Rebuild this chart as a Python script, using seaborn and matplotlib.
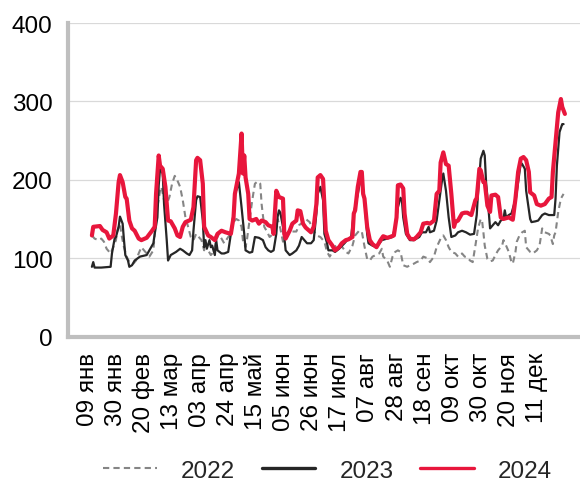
import matplotlib
matplotlib.use("Agg")
import matplotlib.pyplot as plt
from matplotlib.lines import Line2D
import seaborn as sns

# ── Data: day of year (1 = 01 янв) and values ──
days_2022 = [12, 14, 17, 19, 21, 23, 25, 26, 28, 30, 31, 33, 34, 36, 38, 40, 43, 45, 47, 49,
             51, 53, 55, 58, 59, 61, 63, 64, 66, 68, 70, 72, 74, 76, 78, 80, 82, 84, 86, 88,
             90, 92, 94, 96, 97, 99, 101, 102, 104, 105, 107, 111, 114, 116, 118, 120, 122, 124, 125, 127,
             128, 130, 132, 134, 136, 138, 139, 141, 143, 145, 147, 149, 151, 153, 155, 157, 160, 165, 167, 170,
             172, 175, 177, 180, 183, 186, 188, 190, 192, 194, 197, 199, 202, 204, 207, 209, 212, 214, 216, 218,
             220, 222, 227, 229, 230, 233, 235, 237, 239, 241, 243, 245, 248, 250, 253, 255, 258, 260, 263, 265,
             268, 270, 273, 275, 277, 279, 281, 284, 286, 289, 291, 293, 295, 297, 299, 301, 303, 304, 305, 306,
             308, 310, 312, 314, 316, 319, 320, 322, 324, 326, 327, 329, 330, 332, 334, 336, 337, 340, 342, 345,
             347, 349, 351, 354, 355, 357, 358, 359, 361, 363, 365]
vals_2022 = [129, 125, 123, 125, 121, 112, 108, 106, 114, 123, 135, 144, 131, 114, 102, 95, 93, 97, 106, 114,
             110, 106, 102, 110, 131, 165, 186, 191, 174, 169, 178, 195, 205, 199, 191, 174, 152, 140, 127, 123,
             131, 127, 123, 110, 119, 110, 104, 106, 114, 123, 131, 119, 127, 131, 146, 150, 148, 140, 123, 114,
             123, 148, 174, 195, 198, 195, 169, 140, 134, 127, 130, 138, 150, 138, 121, 130, 134, 134, 142, 146,
             150, 146, 138, 129, 127, 121, 108, 102, 108, 115, 118, 115, 108, 106, 116, 129, 135, 134, 115, 99,
             97, 102, 106, 112, 102, 97, 89, 102, 108, 110, 108, 91, 89, 91, 93, 95, 97, 102, 100, 95,
             102, 114, 125, 129, 123, 114, 108, 106, 102, 106, 102, 101, 97, 95, 116, 138, 150, 148, 133, 116,
             99, 96, 97, 104, 110, 116, 123, 116, 108, 95, 93, 108, 121, 129, 133, 135, 114, 108, 106, 110,
             116, 138, 133, 131, 129, 118, 129, 133, 159, 176, 182]

days_2023 = [12, 13, 14, 19, 26, 27, 29, 30, 32, 33, 35, 36, 37, 39, 40, 42, 44, 48, 53, 55,
             58, 59, 61, 62, 63, 65, 66, 68, 69, 71, 75, 78, 80, 83, 85, 87, 88, 90, 91, 93,
             95, 96, 97, 98, 100, 101, 102, 104, 105, 106, 109, 111, 114, 116, 118, 119, 121, 122, 124, 126,
             127, 130, 132, 134, 137, 140, 142, 144, 146, 148, 150, 151, 152, 153, 155, 156, 157, 160, 162, 165,
             167, 169, 171, 173, 176, 178, 180, 181, 183, 185, 186, 188, 189, 192, 194, 197, 201, 203, 206, 208,
             211, 213, 214, 216, 218, 219, 222, 225, 229, 233, 237, 239, 241, 243, 244, 245, 247, 250, 253, 257,
             259, 262, 264, 265, 268, 270, 272, 274, 275, 277, 279, 281, 284, 286, 289, 292, 295, 298, 300, 301,
             303, 305, 306, 307, 309, 310, 312, 314, 316, 318, 320, 321, 322, 324, 326, 328, 329, 331, 333, 334,
             336, 337, 340, 341, 344, 346, 349, 351, 354, 356, 358, 359, 360, 362, 364, 365]
vals_2023 = [89, 95, 88, 88, 89, 106, 125, 127, 140, 153, 144, 123, 104, 97, 89, 91, 97, 102, 104, 110,
             119, 131, 152, 193, 214, 208, 169, 123, 97, 104, 108, 112, 110, 106, 104, 110, 135, 174, 179, 178,
             148, 114, 123, 112, 123, 114, 116, 104, 123, 110, 106, 106, 108, 131, 157, 182, 191, 197, 165, 131,
             110, 107, 108, 127, 126, 123, 114, 110, 108, 110, 131, 153, 161, 158, 140, 127, 110, 104, 106, 110,
             116, 127, 123, 119, 119, 123, 157, 182, 191, 174, 131, 119, 110, 110, 108, 112, 119, 123, 127, 157,
             182, 201, 197, 174, 131, 119, 116, 114, 123, 125, 127, 140, 165, 177, 174, 152, 131, 123, 123, 127,
             133, 133, 140, 133, 135, 148, 174, 199, 208, 186, 152, 127, 129, 133, 135, 133, 130, 131, 155, 184,
             227, 237, 231, 197, 159, 138, 142, 146, 142, 148, 150, 161, 152, 155, 157, 169, 172, 197, 222, 220,
             214, 186, 150, 146, 147, 148, 155, 157, 155, 155, 155, 176, 218, 261, 271, 271]

days_2024 = [12, 13, 18, 20, 23, 25, 28, 30, 32, 33, 35, 37, 38, 40, 42, 44, 47, 49, 53, 57,
             59, 60, 62, 63, 65, 67, 69, 71, 74, 76, 78, 80, 82, 86, 88, 90, 91, 93, 95, 96,
             99, 101, 104, 106, 109, 112, 116, 118, 119, 121, 122, 124, 125, 126, 127, 129, 130, 132, 135, 137,
             139, 142, 144, 147, 148, 150, 152, 155, 156, 157, 160, 162, 165, 166, 168, 170, 172, 176, 178, 180,
             181, 183, 185, 186, 187, 189, 192, 194, 197, 199, 202, 204, 207, 208, 209, 211, 213, 214, 215, 216,
             218, 220, 222, 225, 228, 230, 233, 235, 238, 240, 241, 243, 245, 246, 248, 250, 253, 255, 258, 260,
             263, 265, 268, 270, 272, 273, 275, 277, 279, 281, 283, 284, 286, 289, 291, 293, 296, 299, 300, 302,
             303, 305, 306, 308, 310, 311, 314, 316, 318, 320, 324, 327, 329, 331, 333, 335, 337, 339, 340, 343,
             345, 348, 351, 354, 356, 357, 359, 361, 363, 364, 366]
vals_2024 = [129, 140, 141, 136, 133, 125, 129, 157, 197, 206, 197, 178, 176, 148, 138, 135, 125, 123, 126, 135,
             140, 182, 231, 218, 214, 191, 148, 147, 138, 129, 127, 140, 146, 149, 165, 225, 228, 225, 195, 140,
             129, 127, 123, 131, 135, 133, 131, 152, 182, 199, 208, 259, 208, 231, 203, 182, 150, 148, 150, 144,
             148, 146, 142, 140, 131, 186, 178, 176, 131, 125, 135, 144, 148, 161, 160, 144, 139, 133, 140, 169,
             203, 206, 201, 169, 135, 123, 116, 110, 114, 119, 123, 124, 127, 157, 161, 191, 210, 210, 182, 176,
             140, 123, 118, 114, 123, 128, 126, 127, 129, 152, 193, 194, 189, 157, 131, 125, 124, 127, 133, 144,
             145, 144, 148, 182, 186, 222, 235, 220, 218, 182, 140, 146, 148, 157, 158, 158, 155, 174, 176, 214,
             212, 197, 197, 167, 159, 180, 181, 178, 152, 150, 152, 149, 176, 210, 227, 229, 225, 210, 184, 180,
             169, 167, 169, 176, 178, 210, 248, 286, 303, 293, 284]

tick_days = [9, 30, 51, 72, 93, 114, 135, 156, 177, 198, 219, 240, 261, 282, 303, 324, 345]
tick_labels = ["09 янв", "30 янв", "20 фев", "13 мар", "03 апр", "24 апр", "15 май", "05 июн",
               "26 июн", "17 июл", "07 авг", "28 авг", "18 сен", "09 окт", "30 окт", "20 ноя", "11 дек"]

COLORS = {"2022": "#858585", "2023": "#262626", "2024": "#e8163c"}
DASHES = [3.0, 2.0]

sns.set_theme(style="white")
plt.rcParams["font.family"] = ["Liberation Sans", "DejaVu Sans"]

fig = plt.figure(figsize=(5.8, 4.85), dpi=100)
ax = fig.add_axes([0.117, 0.304, 0.883, 0.6465])

# ── Lines ──────────────────────────────────────────────
sns.lineplot(x=days_2022, y=vals_2022, ax=ax, color=COLORS["2022"], linewidth=1.5)
ax.lines[-1].set_dashes(DASHES)
sns.lineplot(x=days_2023, y=vals_2023, ax=ax, color=COLORS["2023"], linewidth=1.6)
sns.lineplot(x=days_2024, y=vals_2024, ax=ax, color=COLORS["2024"], linewidth=3.0)
for ln in ax.lines:
    ln.set_solid_joinstyle("round")
    ln.set_dash_joinstyle("round")

# ── Axes styling ───────────────────────────────────────
ax.set_xlim(-6, 377.3)
ax.set_ylim(0, 400)
ax.set_yticks([0, 100, 200, 300, 400])
ax.set_xticks(tick_days)
ax.set_xticklabels(tick_labels, rotation=90, ha="center", va="top")
ax.tick_params(axis="both", length=0, labelsize=17.5, colors="black")
ax.tick_params(axis="y", pad=11)
ax.tick_params(axis="x", pad=11)
ax.set_xlabel("")
ax.set_ylabel("")

ax.grid(axis="y", color="#d9d9d9", linewidth=0.9)
ax.grid(axis="x", visible=False)
ax.set_axisbelow(True)
for side in ["top", "right"]:
    ax.spines[side].set_visible(False)
for side in ["left", "bottom"]:
    ax.spines[side].set_color("#bfbfbf")
    ax.spines[side].set_linewidth(3)

# ── Legend ─────────────────────────────────────────────
handles = [
    Line2D([], [], color=COLORS["2022"], linewidth=1.5, dashes=DASHES),
    Line2D([], [], color=COLORS["2023"], linewidth=2.4),
    Line2D([], [], color=COLORS["2024"], linewidth=2.4),
]
fig.legend(handles, ["2022", "2023", "2024"], loc="center", bbox_to_anchor=(0.565, 0.027),
           ncol=3, frameon=False, fontsize=17.5, handlelength=2.2, handletextpad=1.0,
           columnspacing=1.1)

fig.savefig("out.png", dpi=100)
